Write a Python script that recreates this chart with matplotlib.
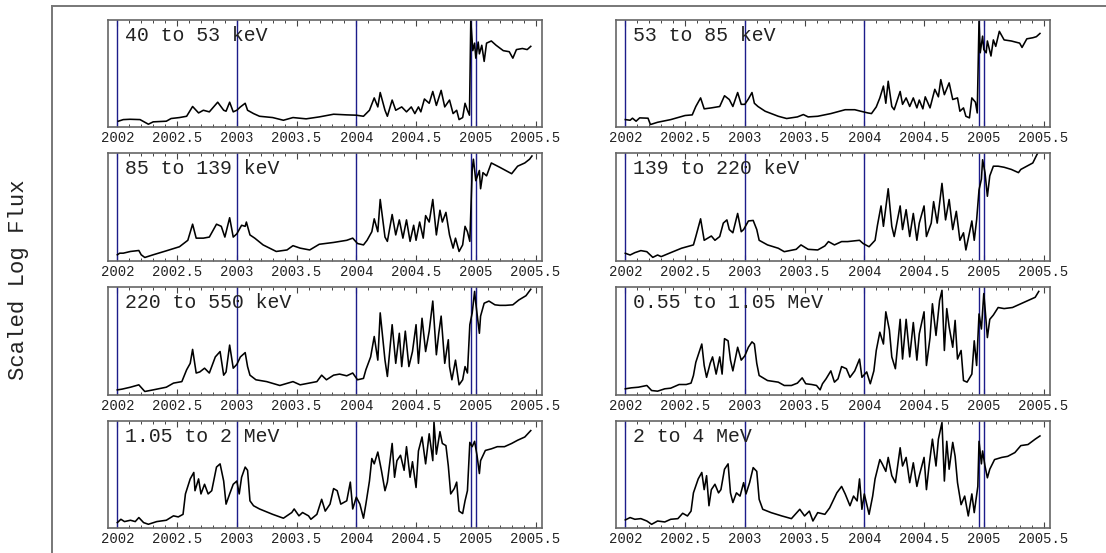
import matplotlib
matplotlib.use('Agg')
import matplotlib.pyplot as plt
from matplotlib.lines import Line2D
from matplotlib.ticker import MultipleLocator, FuncFormatter

plt.rcParams['font.family'] = ['Liberation Mono', 'DejaVu Sans Mono']

# channel labels, left column then right column, row by row
labels = ['40 to 53 keV', '53 to 85 keV',
          '85 to 139 keV', '139 to 220 keV',
          '220 to 550 keV', '0.55 to 1.05 MeV',
          '1.05 to 2 MeV', '2 to 4 MeV']

# event markers (decimal year)
marks = [2002.0, 2003.0, 2004.0, 2004.958, 2005.0]

# 40 to 53 keV
t1 = [2002.008, 2002.05, 2002.106, 2002.19, 2002.26, 2002.30, 2002.41, 2002.45, 2002.52, 2002.58,
      2002.63, 2002.68, 2002.72, 2002.77, 2002.84, 2002.89, 2002.91, 2002.94, 2002.97, 2003.00,
      2003.03, 2003.07, 2003.09, 2003.14, 2003.19, 2003.30, 2003.39, 2003.47, 2003.58, 2003.69,
      2003.81, 2003.92, 2004.00, 2004.06, 2004.11, 2004.15, 2004.18, 2004.20, 2004.24, 2004.26,
      2004.30, 2004.33, 2004.38, 2004.42, 2004.46, 2004.49, 2004.52, 2004.54, 2004.57, 2004.61,
      2004.64, 2004.67, 2004.71, 2004.74, 2004.78, 2004.81, 2004.84, 2004.86, 2004.89, 2004.91,
      2004.93, 2004.947, 2004.958, 2004.975, 2004.99, 2005.00, 2005.02, 2005.03, 2005.05, 2005.07,
      2005.09, 2005.13, 2005.17, 2005.23, 2005.28, 2005.31, 2005.34, 2005.39, 2005.43, 2005.46]
f1 = [0.053, 0.068, 0.071, 0.068, 0.025, 0.047, 0.053, 0.078, 0.087, 0.099,
      0.19, 0.13, 0.155, 0.14, 0.23, 0.155, 0.146, 0.23, 0.14, 0.155,
      0.186, 0.22, 0.155, 0.124, 0.099, 0.087, 0.062, 0.087, 0.075, 0.093,
      0.118, 0.112, 0.109, 0.099, 0.155, 0.27, 0.186, 0.32, 0.155, 0.099,
      0.25, 0.155, 0.186, 0.14, 0.186, 0.124, 0.186, 0.14, 0.26, 0.22,
      0.33, 0.20, 0.34, 0.186, 0.25, 0.124, 0.155, 0.068, 0.087, 0.22,
      0.155, 0.109, 0.99, 0.71, 0.78, 0.64, 0.79, 0.68, 0.76, 0.61,
      0.78, 0.80, 0.76, 0.71, 0.70, 0.64, 0.72, 0.73, 0.72, 0.75]

# 53 to 85 keV
t2 = [2002.00, 2002.04, 2002.06, 2002.09, 2002.12, 2002.19, 2002.21, 2002.27, 2002.38, 2002.50,
      2002.56, 2002.59, 2002.63, 2002.66, 2002.72, 2002.79, 2002.83, 2002.87, 2002.90, 2002.94,
      2002.97, 2003.00, 2003.03, 2003.06, 2003.08, 2003.11, 2003.17, 2003.28, 2003.35, 2003.44,
      2003.49, 2003.53, 2003.61, 2003.72, 2003.84, 2003.92, 2003.97, 2004.03, 2004.06, 2004.10,
      2004.13, 2004.16, 2004.18, 2004.20, 2004.23, 2004.25, 2004.30, 2004.32, 2004.35, 2004.38,
      2004.41, 2004.44, 2004.46, 2004.49, 2004.51, 2004.55, 2004.59, 2004.62, 2004.64, 2004.67,
      2004.71, 2004.74, 2004.78, 2004.80, 2004.83, 2004.85, 2004.88, 2004.90, 2004.93, 2004.945,
      2004.96, 2004.97, 2004.99, 2005.00, 2005.02, 2005.03, 2005.06, 2005.08, 2005.10, 2005.13,
      2005.17, 2005.23, 2005.30, 2005.32, 2005.36, 2005.41, 2005.44, 2005.47]
f2 = [0.068, 0.062, 0.081, 0.053, 0.084, 0.081, 0.022, 0.043, 0.068, 0.106,
      0.112, 0.19, 0.27, 0.168, 0.177, 0.19, 0.29, 0.255, 0.19, 0.32,
      0.21, 0.21, 0.26, 0.32, 0.22, 0.19, 0.146, 0.099, 0.078, 0.093,
      0.115, 0.093, 0.099, 0.124, 0.16, 0.16, 0.146, 0.13, 0.124, 0.186,
      0.27, 0.38, 0.22, 0.425, 0.19, 0.16, 0.33, 0.21, 0.27, 0.19,
      0.27, 0.177, 0.25, 0.168, 0.28, 0.177, 0.35, 0.28, 0.44, 0.30,
      0.41, 0.255, 0.27, 0.146, 0.177, 0.099, 0.084, 0.27, 0.23, 0.13,
      0.985, 0.69, 0.845, 0.72, 0.69, 0.80, 0.66, 0.81, 0.75, 0.89,
      0.81, 0.80, 0.78, 0.74, 0.82, 0.83, 0.84, 0.87]

# 85 to 139 keV
t3 = [2002.00, 2002.02, 2002.05, 2002.11, 2002.18, 2002.20, 2002.23, 2002.30, 2002.41, 2002.52,
      2002.59, 2002.63, 2002.66, 2002.72, 2002.77, 2002.83, 2002.87, 2002.90, 2002.94, 2002.97,
      2003.00, 2003.04, 2003.07, 2003.08, 2003.11, 2003.15, 2003.22, 2003.33, 2003.42, 2003.47,
      2003.53, 2003.61, 2003.69, 2003.81, 2003.92, 2003.97, 2004.01, 2004.06, 2004.09, 2004.13,
      2004.15, 2004.18, 2004.20, 2004.24, 2004.26, 2004.30, 2004.33, 2004.36, 2004.39, 2004.42,
      2004.45, 2004.48, 2004.50, 2004.53, 2004.56, 2004.58, 2004.61, 2004.64, 2004.67, 2004.70,
      2004.72, 2004.75, 2004.78, 2004.81, 2004.83, 2004.86, 2004.89, 2004.91, 2004.93, 2004.95,
      2004.97, 2004.98, 2005.00, 2005.03, 2005.04, 2005.06, 2005.09, 2005.13, 2005.20, 2005.25,
      2005.30, 2005.35, 2005.41, 2005.45, 2005.47]
f3 = [0.055, 0.07, 0.07, 0.086, 0.095, 0.055, 0.03, 0.055, 0.092, 0.13,
      0.19, 0.34, 0.21, 0.21, 0.22, 0.34, 0.32, 0.22, 0.40, 0.22,
      0.25, 0.33, 0.32, 0.36, 0.24, 0.21, 0.147, 0.086, 0.10, 0.14,
      0.117, 0.10, 0.153, 0.17, 0.19, 0.21, 0.16, 0.147, 0.19, 0.27,
      0.39, 0.27, 0.57, 0.22, 0.18, 0.43, 0.24, 0.38, 0.21, 0.38,
      0.18, 0.33, 0.19, 0.36, 0.21, 0.42, 0.36, 0.57, 0.24, 0.47,
      0.36, 0.45, 0.24, 0.117, 0.21, 0.086, 0.147, 0.32, 0.27, 0.18,
      0.85, 0.945, 0.745, 0.84, 0.67, 0.82, 0.79, 0.91, 0.87, 0.84,
      0.81, 0.88, 0.91, 0.945, 0.975]

# 139 to 220 keV
t4 = [2002.00, 2002.04, 2002.08, 2002.13, 2002.18, 2002.23, 2002.27, 2002.30, 2002.38, 2002.47,
      2002.57, 2002.59, 2002.63, 2002.66, 2002.72, 2002.75, 2002.79, 2002.82, 2002.85, 2002.87,
      2002.90, 2002.94, 2002.97, 2002.99, 2003.03, 2003.07, 2003.10, 2003.12, 2003.19, 2003.28,
      2003.33, 2003.43, 2003.47, 2003.53, 2003.61, 2003.67, 2003.70, 2003.75, 2003.81, 2003.86,
      2003.96, 2003.99, 2004.04, 2004.09, 2004.11, 2004.14, 2004.16, 2004.20, 2004.23, 2004.25,
      2004.30, 2004.32, 2004.35, 2004.38, 2004.41, 2004.44, 2004.46, 2004.50, 2004.52, 2004.56,
      2004.58, 2004.61, 2004.65, 2004.68, 2004.71, 2004.74, 2004.77, 2004.80, 2004.83, 2004.85,
      2004.88, 2004.90, 2004.92, 2004.94, 2004.96, 2004.98, 2004.99, 2005.01, 2005.03, 2005.05,
      2005.08, 2005.12, 2005.17, 2005.23, 2005.29, 2005.31, 2005.36, 2005.41, 2005.45]
f4 = [0.069, 0.053, 0.075, 0.094, 0.084, 0.031, 0.053, 0.038, 0.075, 0.116,
      0.147, 0.225, 0.39, 0.19, 0.23, 0.19, 0.225, 0.35, 0.38, 0.29,
      0.26, 0.44, 0.27, 0.29, 0.37, 0.375, 0.29, 0.19, 0.147, 0.116,
      0.084, 0.106, 0.147, 0.106, 0.10, 0.1375, 0.178, 0.147, 0.178, 0.178,
      0.19, 0.16, 0.13, 0.19, 0.33, 0.51, 0.32, 0.67, 0.32, 0.225,
      0.51, 0.29, 0.475, 0.225, 0.44, 0.19, 0.35, 0.51, 0.225, 0.35,
      0.55, 0.35, 0.72, 0.38, 0.57, 0.29, 0.46, 0.19, 0.26, 0.10,
      0.26, 0.37, 0.19, 0.38, 0.66, 0.76, 0.94, 0.82, 0.60, 0.79,
      0.88, 0.88, 0.87, 0.85, 0.82, 0.85, 0.88, 0.91, 1.0]

# 220 to 550 keV
t5 = [2002.00, 2002.04, 2002.11, 2002.18, 2002.23, 2002.30, 2002.41, 2002.47, 2002.54, 2002.58,
      2002.61, 2002.63, 2002.66, 2002.69, 2002.73, 2002.77, 2002.82, 2002.86, 2002.89, 2002.91,
      2002.94, 2002.97, 2003.00, 2003.03, 2003.07, 2003.09, 2003.11, 2003.16, 2003.25, 2003.36,
      2003.47, 2003.53, 2003.67, 2003.71, 2003.75, 2003.81, 2003.86, 2003.92, 2003.97, 2004.01,
      2004.06, 2004.08, 2004.12, 2004.15, 2004.18, 2004.20, 2004.24, 2004.26, 2004.30, 2004.33,
      2004.36, 2004.38, 2004.41, 2004.44, 2004.47, 2004.50, 2004.52, 2004.55, 2004.58, 2004.61,
      2004.64, 2004.67, 2004.69, 2004.71, 2004.74, 2004.77, 2004.78, 2004.80, 2004.83, 2004.86,
      2004.89, 2004.91, 2004.93, 2004.95, 2004.97, 2004.99, 2005.00, 2005.03, 2005.04, 2005.07,
      2005.11, 2005.16, 2005.20, 2005.25, 2005.31, 2005.36, 2005.42, 2005.46]
f5 = [0.043, 0.05, 0.068, 0.09, 0.028, 0.043, 0.068, 0.106, 0.12, 0.23,
      0.29, 0.42, 0.20, 0.21, 0.245, 0.20, 0.35, 0.40, 0.18, 0.21,
      0.46, 0.245, 0.28, 0.35, 0.39, 0.26, 0.18, 0.137, 0.12, 0.084,
      0.12, 0.09, 0.12, 0.18, 0.137, 0.18, 0.19, 0.174, 0.20, 0.137,
      0.15, 0.23, 0.35, 0.54, 0.32, 0.76, 0.32, 0.168, 0.65, 0.29,
      0.57, 0.26, 0.59, 0.26, 0.40, 0.65, 0.29, 0.71, 0.40, 0.59,
      0.87, 0.37, 0.57, 0.73, 0.29, 0.51, 0.26, 0.137, 0.32, 0.09,
      0.137, 0.26, 0.20, 0.65, 0.76, 0.96, 0.85, 0.57, 0.73, 0.85,
      0.87, 0.835, 0.83, 0.83, 0.835, 0.88, 0.92, 0.98]

# 0.55 to 1.05 MeV
t6 = [2002.00, 2002.05, 2002.11, 2002.18, 2002.22, 2002.27, 2002.33, 2002.38, 2002.45, 2002.51,
      2002.55, 2002.57, 2002.59, 2002.64, 2002.66, 2002.68, 2002.71, 2002.73, 2002.76, 2002.79,
      2002.81, 2002.83, 2002.86, 2002.88, 2002.90, 2002.94, 2002.97, 2003.00, 2003.03, 2003.06,
      2003.08, 2003.10, 2003.12, 2003.19, 2003.28, 2003.33, 2003.39, 2003.44, 2003.48, 2003.51,
      2003.56, 2003.60, 2003.63, 2003.65, 2003.68, 2003.72, 2003.75, 2003.78, 2003.81, 2003.85,
      2003.88, 2003.92, 2003.96, 2003.98, 2004.02, 2004.05, 2004.08, 2004.10, 2004.13, 2004.16,
      2004.18, 2004.21, 2004.23, 2004.26, 2004.30, 2004.32, 2004.35, 2004.38, 2004.41, 2004.44,
      2004.46, 2004.50, 2004.52, 2004.55, 2004.57, 2004.60, 2004.63, 2004.65, 2004.67, 2004.69,
      2004.71, 2004.74, 2004.76, 2004.78, 2004.81, 2004.83, 2004.86, 2004.90, 2004.92, 2004.94,
      2004.96, 2004.98, 2005.00, 2005.01, 2005.03, 2005.05, 2005.08, 2005.12, 2005.17, 2005.24,
      2005.31, 2005.37, 2005.43, 2005.46]
f6 = [0.053, 0.062, 0.068, 0.084, 0.037, 0.031, 0.053, 0.059, 0.093, 0.093,
      0.106, 0.177, 0.30, 0.47, 0.27, 0.16, 0.29, 0.35, 0.19, 0.35,
      0.19, 0.52, 0.50, 0.32, 0.22, 0.44, 0.32, 0.36, 0.44, 0.49,
      0.47, 0.29, 0.177, 0.13, 0.115, 0.084, 0.084, 0.106, 0.155, 0.10,
      0.093, 0.084, 0.043, 0.10, 0.146, 0.22, 0.115, 0.146, 0.26, 0.24,
      0.16, 0.22, 0.33, 0.16, 0.21, 0.10, 0.22, 0.41, 0.58, 0.47,
      0.77, 0.60, 0.35, 0.24, 0.70, 0.33, 0.70, 0.35, 0.67, 0.32,
      0.565, 0.77, 0.27, 0.53, 0.845, 0.55, 0.875, 0.97, 0.41, 0.80,
      0.63, 0.44, 0.69, 0.33, 0.41, 0.13, 0.115, 0.19, 0.50, 0.27,
      0.75, 0.61, 0.94, 0.81, 0.53, 0.70, 0.74, 0.81, 0.80, 0.81,
      0.845, 0.875, 0.905, 0.96]

# 1.05 to 2 MeV
t7 = [2002.00, 2002.03, 2002.06, 2002.11, 2002.15, 2002.18, 2002.22, 2002.26, 2002.33, 2002.41,
      2002.47, 2002.51, 2002.55, 2002.57, 2002.61, 2002.64, 2002.65, 2002.68, 2002.70, 2002.73,
      2002.76, 2002.79, 2002.83, 2002.86, 2002.89, 2002.91, 2002.94, 2002.97, 2003.00, 2003.02,
      2003.04, 2003.07, 2003.09, 2003.11, 2003.14, 2003.19, 2003.30, 2003.39, 2003.46, 2003.48,
      2003.52, 2003.55, 2003.60, 2003.62, 2003.67, 2003.71, 2003.74, 2003.78, 2003.81, 2003.84,
      2003.87, 2003.92, 2003.95, 2003.97, 2004.00, 2004.03, 2004.06, 2004.08, 2004.11, 2004.13,
      2004.15, 2004.18, 2004.21, 2004.24, 2004.26, 2004.30, 2004.32, 2004.34, 2004.37, 2004.40,
      2004.42, 2004.45, 2004.47, 2004.50, 2004.52, 2004.55, 2004.58, 2004.61, 2004.64, 2004.65,
      2004.67, 2004.70, 2004.72, 2004.75, 2004.77, 2004.79, 2004.82, 2004.84, 2004.86, 2004.89,
      2004.91, 2004.93, 2004.95, 2004.97, 2004.99, 2005.01, 2005.03, 2005.04, 2005.08, 2005.13,
      2005.18, 2005.24, 2005.30, 2005.35, 2005.41, 2005.46]
f7 = [0.053, 0.084, 0.0625, 0.075, 0.0625, 0.10, 0.053, 0.0375, 0.0625, 0.075,
      0.116, 0.106, 0.13, 0.32, 0.46, 0.52, 0.35, 0.46, 0.32, 0.41,
      0.32, 0.35, 0.57, 0.60, 0.44, 0.225, 0.32, 0.41, 0.44, 0.32,
      0.475, 0.57, 0.54, 0.256, 0.21, 0.18, 0.13, 0.094, 0.147, 0.18,
      0.116, 0.147, 0.116, 0.084, 0.13, 0.27, 0.16, 0.225, 0.37, 0.35,
      0.225, 0.256, 0.43, 0.18, 0.29, 0.225, 0.094, 0.225, 0.44, 0.65,
      0.60, 0.71, 0.54, 0.35, 0.43, 0.79, 0.475, 0.63, 0.68, 0.54,
      0.76, 0.475, 0.62, 0.38, 0.72, 0.85, 0.60, 0.88, 0.63, 0.99,
      0.69, 0.90, 0.79, 0.77, 0.58, 0.32, 0.37, 0.43, 0.16, 0.1375,
      0.256, 0.35, 0.80, 0.76, 0.81, 0.68, 0.51, 0.63, 0.725, 0.74,
      0.76, 0.76, 0.79, 0.82, 0.85, 0.91]

# 2 to 4 MeV
t8 = [2002.00, 2002.04, 2002.08, 2002.13, 2002.18, 2002.22, 2002.27, 2002.33, 2002.38, 2002.44,
      2002.48, 2002.52, 2002.55, 2002.57, 2002.61, 2002.64, 2002.66, 2002.68, 2002.70, 2002.72,
      2002.75, 2002.78, 2002.80, 2002.83, 2002.86, 2002.88, 2002.90, 2002.93, 2002.96, 2002.99,
      2003.01, 2003.04, 2003.07, 2003.10, 2003.12, 2003.15, 2003.22, 2003.31, 2003.39, 2003.46,
      2003.50, 2003.54, 2003.57, 2003.61, 2003.67, 2003.71, 2003.77, 2003.81, 2003.84, 2003.88,
      2003.91, 2003.94, 2003.96, 2003.98, 2004.00, 2004.04, 2004.07, 2004.09, 2004.13, 2004.15,
      2004.18, 2004.20, 2004.23, 2004.26, 2004.30, 2004.32, 2004.35, 2004.38, 2004.41, 2004.44,
      2004.46, 2004.50, 2004.52, 2004.54, 2004.57, 2004.60, 2004.62, 2004.65, 2004.67, 2004.69,
      2004.71, 2004.74, 2004.76, 2004.78, 2004.81, 2004.84, 2004.87, 2004.90, 2004.92, 2004.95,
      2004.96, 2004.98, 2004.99, 2005.01, 2005.03, 2005.05, 2005.09, 2005.15, 2005.20, 2005.26,
      2005.31, 2005.37, 2005.43, 2005.47]
f8 = [0.078, 0.10, 0.084, 0.09, 0.068, 0.037, 0.068, 0.059, 0.084, 0.09,
      0.14, 0.115, 0.16, 0.33, 0.46, 0.52, 0.36, 0.49, 0.21, 0.36,
      0.41, 0.33, 0.36, 0.55, 0.60, 0.33, 0.24, 0.33, 0.30, 0.425,
      0.32, 0.425, 0.565, 0.53, 0.27, 0.177, 0.146, 0.115, 0.09, 0.177,
      0.115, 0.16, 0.068, 0.146, 0.13, 0.19, 0.33, 0.39, 0.32, 0.21,
      0.30, 0.255, 0.46, 0.177, 0.32, 0.13, 0.30, 0.46, 0.64, 0.60,
      0.53, 0.66, 0.49, 0.425, 0.75, 0.58, 0.66, 0.425, 0.61, 0.39,
      0.49, 0.66, 0.36, 0.565, 0.83, 0.58, 0.83, 0.985, 0.44, 0.81,
      0.55, 0.80, 0.67, 0.425, 0.22, 0.30, 0.115, 0.32, 0.146, 0.39,
      0.81, 0.60, 0.72, 0.58, 0.47, 0.55, 0.64, 0.66, 0.67, 0.705,
      0.77, 0.78, 0.83, 0.86]

series = [(t1, f1), (t2, f2), (t3, f3), (t4, f4),
          (t5, f5), (t6, f6), (t7, f7), (t8, f8)]

W, H = 1106, 553
fig = plt.figure(figsize=(W / 100, H / 100), dpi=100)

# outer frame (top and left edges only visible)
fig.add_artist(Line2D([52 / W, 1.0], [1 - 6 / H, 1 - 6 / H], color='#777777', lw=1.4))
fig.add_artist(Line2D([52 / W, 52 / W], [0.0, 1 - 6 / H], color='#777777', lw=1.4))

fig.text(19 / W, 1 - 280 / H, 'Scaled Log Flux', rotation=90, ha='center', va='center',
         fontsize=16, color='#222222')

lefts = [108, 616]
aw, ah = 434, 107.4
tops = [19.5, 153.3, 287.1, 420.9]

for i, ((t, f), lab) in enumerate(zip(series, labels)):
    r, c = divmod(i, 2)
    ax = fig.add_axes([lefts[c] / W, 1 - (tops[r] + ah) / H, aw / W, ah / H])
    for m in marks:
        ax.axvline(m, color='#1c1c8a', lw=1.0)
    ax.plot(t, f, color='black', lw=1.15)
    ax.set_xlim(2001.922, 2005.554)
    ax.set_ylim(0.0, 1.0)
    ax.text(0.039, 0.855, lab, transform=ax.transAxes, ha='left', va='center',
            fontsize=14.3, color='#222222')
    ax.xaxis.set_major_locator(MultipleLocator(0.5))
    ax.xaxis.set_minor_locator(MultipleLocator(0.1))
    ax.xaxis.set_major_formatter(FuncFormatter(lambda v, p: '%g' % round(v, 1)))
    ax.tick_params(axis='x', which='both', direction='in', top=True, bottom=True,
                   color='#444444', labelsize=10, labelcolor='#222222', pad=3)
    ax.tick_params(axis='x', which='major', length=4, width=0.8)
    ax.tick_params(axis='x', which='minor', length=2.5, width=0.7)
    ax.set_yticks([])
    for s in ax.spines.values():
        s.set_color('#666666')
        s.set_linewidth(1.2)

fig.savefig('out.png', dpi=100)
